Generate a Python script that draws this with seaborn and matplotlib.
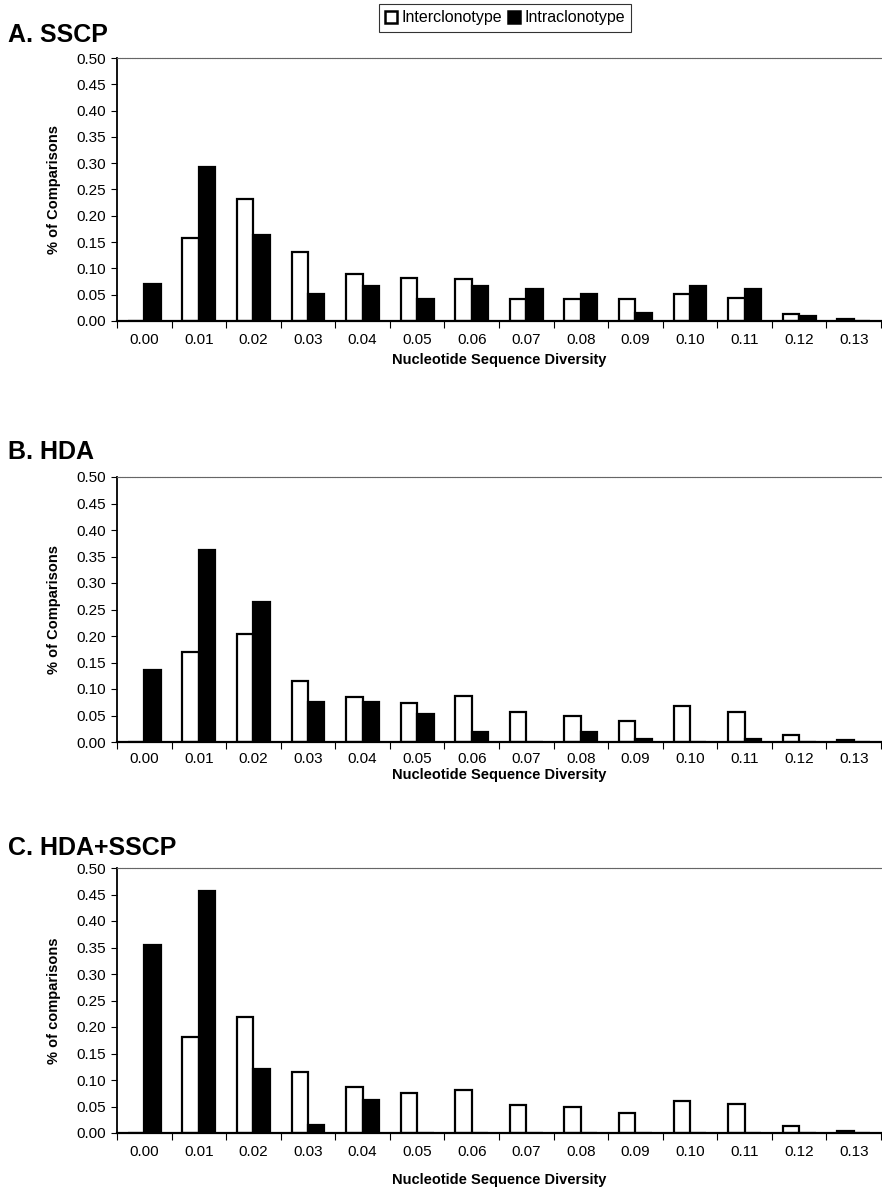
import matplotlib
matplotlib.use("Agg")
import matplotlib.pyplot as plt
import seaborn as sns
import pandas as pd
import numpy as np
from matplotlib.patches import Patch

sns.set_style("ticks")
plt.rcParams['font.family'] = ['Liberation Sans', 'DejaVu Sans']
plt.rcParams['text.color'] = 'black'
plt.rcParams['axes.labelcolor'] = 'black'
plt.rcParams['xtick.color'] = 'black'
plt.rcParams['ytick.color'] = 'black'

categories = ["0.00", "0.01", "0.02", "0.03", "0.04", "0.05", "0.06",
              "0.07", "0.08", "0.09", "0.10", "0.11", "0.12", "0.13"]
series = ["Interclonotype", "Intraclonotype"]

sscp_inter = [0.000, 0.158, 0.231, 0.131, 0.089, 0.082, 0.079, 0.042, 0.042, 0.042, 0.052, 0.044, 0.013, 0.003]
sscp_intra = [0.070, 0.293, 0.163, 0.052, 0.066, 0.041, 0.066, 0.061, 0.052, 0.015, 0.066, 0.060, 0.010, 0.000]

hda_inter = [0.000, 0.170, 0.204, 0.116, 0.084, 0.074, 0.086, 0.056, 0.049, 0.040, 0.067, 0.057, 0.014, 0.003]
hda_intra = [0.136, 0.362, 0.265, 0.075, 0.075, 0.052, 0.018, 0.000, 0.018, 0.006, 0.000, 0.006, 0.000, 0.000]

both_inter = [0.000, 0.182, 0.218, 0.115, 0.086, 0.076, 0.081, 0.052, 0.049, 0.038, 0.061, 0.054, 0.013, 0.003]
both_intra = [0.355, 0.457, 0.121, 0.016, 0.062, 0.000, 0.000, 0.000, 0.000, 0.000, 0.000, 0.000, 0.000, 0.000]

panels = [
    ("A. SSCP", "% of Comparisons", sscp_inter, sscp_intra),
    ("B. HDA", "% of Comparisons", hda_inter, hda_intra),
    ("C. HDA+SSCP", "% of comparisons", both_inter, both_intra),
]

W, H = 882, 1193
fig = plt.figure(figsize=(W / 100, H / 100), dpi=100)

# axes boxes in pixels: (top, bottom)
boxes = [(58, 321), (477, 742), (868, 1133)]
title_y = [35, 452, 848]
tick_pad = [9, 7, 9]
xlabel_pad = [4, 2, 10]
left_px, right_px = 117, 881

for (title, ylab, inter, intra), (top, bot), ty, tp, lp in zip(panels, boxes, title_y, tick_pad, xlabel_pad):
    ax = fig.add_axes([left_px / W, 1 - bot / H, (right_px - left_px) / W, (bot - top) / H])
    df = pd.DataFrame({
        "Diversity": categories * 2,
        "Series": [series[0]] * len(categories) + [series[1]] * len(categories),
        "Value": list(inter) + list(intra),
    })
    sns.barplot(data=df, x="Diversity", y="Value", hue="Series", order=categories,
                hue_order=series, palette={series[0]: "white", series[1]: "black"},
                edgecolor="black", linewidth=1.6, width=0.6, ax=ax, legend=False)
    ax.set_xlim(-0.5, len(categories) - 0.5)
    ax.set_ylim(0, 0.5)
    yt = np.arange(0, 0.501, 0.05)
    ax.set_yticks(yt)
    ax.set_yticklabels([f"{v:.2f}" for v in yt], fontsize=11)
    # x ticks at category boundaries, labels at centers
    ax.set_xticks(np.arange(len(categories)))
    ax.set_xticklabels(categories, fontsize=11)
    ax.tick_params(axis="x", length=0, pad=tp)
    ax.set_xticks(np.arange(-0.5, len(categories) + 0.5, 1.0), minor=True)
    ax.tick_params(axis="x", which="minor", length=5, width=0.8, color="black")
    ax.tick_params(axis="y", length=4, width=0.8, pad=4, color="black")
    ax.set_xlabel("Nucleotide Sequence Diversity", fontsize=10.5, fontweight="bold", labelpad=lp)
    ax.set_ylabel(ylab, fontsize=10.5, fontweight="bold", labelpad=11)
    for s in ["left", "bottom"]:
        ax.spines[s].set_color("black")
    ax.spines["left"].set_linewidth(1.3)
    ax.spines["bottom"].set_linewidth(1.6)
    ax.spines["top"].set_visible(True)
    ax.spines["top"].set_color("#666666")
    ax.spines["top"].set_linewidth(0.8)
    ax.spines["top"].set_linestyle((0, (1, 0.5)))
    ax.spines["right"].set_visible(False)
    ax.set_facecolor("white")
    fig.text(8 / W, 1 - ty / H, title, fontsize=18, fontweight="bold", va="center", ha="left",
             color="black")

handles = [Patch(facecolor="white", edgecolor="black", linewidth=1.8, label=series[0]),
           Patch(facecolor="black", edgecolor="black", linewidth=1.8, label=series[1])]
leg = fig.legend(handles=handles, loc="upper center", bbox_to_anchor=(505 / W, 1 - 4 / H),
                 ncol=2, frameon=True, fancybox=False, fontsize=11.5, handlelength=0.75,
                 handleheight=0.75, handletextpad=0.25, columnspacing=0.4,
                 borderpad=0.4, borderaxespad=0)
leg.get_frame().set_edgecolor("black")
leg.get_frame().set_linewidth(0.8)

fig.savefig("out.png", dpi=100, facecolor="white")
